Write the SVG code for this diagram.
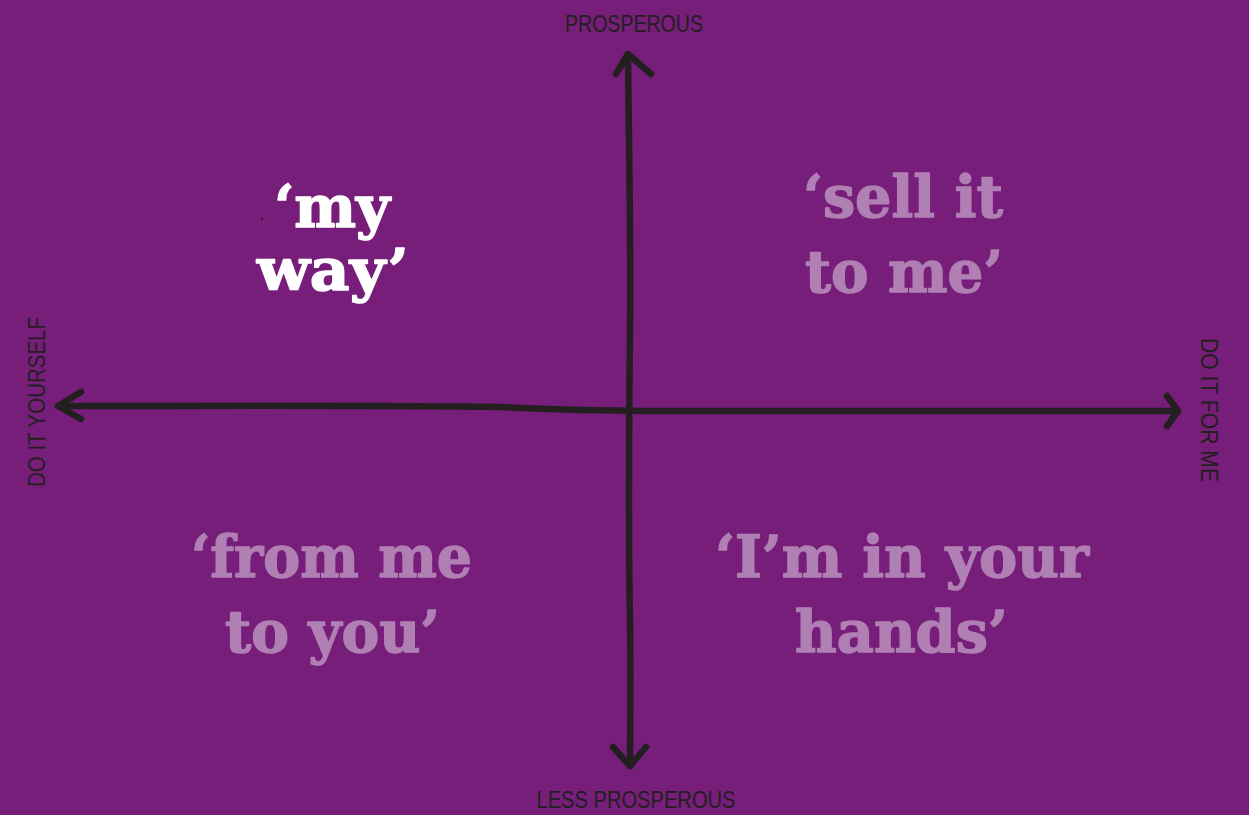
<svg xmlns="http://www.w3.org/2000/svg" width="1249" height="815" viewBox="0 0 1249 815">
<style>
.q{font-family:"DejaVu Serif","Liberation Serif",serif;font-weight:bold;font-size:58px;fill:#b07fb3;stroke:#b07fb3;stroke-width:1.5;stroke-linejoin:round}
.hl{fill:#ffffff;stroke:#ffffff}
.ax{font-family:"Liberation Sans Narrow","Liberation Sans",sans-serif;font-size:23px;fill:#231f20;text-anchor:middle}
.ln{fill:none;stroke:#231f20;stroke-width:6.5;stroke-linecap:round;stroke-linejoin:round}
</style>
<rect width="1249" height="815" fill="#761e7a"/>
<g id="connectors">
<path class="ln" d="M628,54 C629,150 631,250 630,330 C629,420 628,520 630,620 C631,690 630,730 630,766"/>
<path class="ln" d="M616,74 L628,54 L651,74"/>
<path class="ln" d="M613,747 L630,766 L646,747"/>
<path class="ln" d="M58,406 C200,406 380,405 500,407 C560,410 600,411 700,411 C900,411 1050,411 1178,411"/>
<path class="ln" d="M81,392 L58,406 L81,419"/>
<path class="ln" d="M1167,396 L1178,411 L1167,426"/>
</g>
<g id="axis-top"><text class="ax" x="634" y="32" textLength="138" lengthAdjust="spacingAndGlyphs">PROSPEROUS</text></g>
<g id="axis-bottom"><text class="ax" x="636" y="808" textLength="199" lengthAdjust="spacingAndGlyphs">LESS PROSPEROUS</text></g>
<g id="axis-left"><text class="ax" transform="translate(45,402) rotate(-90)" textLength="170" lengthAdjust="spacingAndGlyphs">DO IT YOURSELF</text></g>
<g id="axis-right"><text class="ax" transform="translate(1201,410) rotate(90)" textLength="144" lengthAdjust="spacingAndGlyphs">DO IT FOR ME</text></g>
<g id="q-my-way"><text class="q hl" x="274" y="227" textLength="116" lengthAdjust="spacingAndGlyphs">‘my</text><text class="q hl" x="257" y="290" textLength="152" lengthAdjust="spacingAndGlyphs">way’</text></g>
<g id="q-sell"><text class="q" x="803" y="217" textLength="200" lengthAdjust="spacingAndGlyphs">‘sell it</text><text class="q" x="805" y="292" textLength="198" lengthAdjust="spacingAndGlyphs">to me’</text></g>
<g id="q-from"><text class="q" x="191" y="577" textLength="281" lengthAdjust="spacingAndGlyphs">‘from me</text><text class="q" x="225" y="652" textLength="215" lengthAdjust="spacingAndGlyphs">to you’</text></g>
<g id="q-hands"><text class="q" x="715" y="577" textLength="374" lengthAdjust="spacingAndGlyphs">‘I’m in your</text><text class="q" x="795" y="652" textLength="213" lengthAdjust="spacingAndGlyphs">hands’</text></g>
<rect x="261" y="218" width="2" height="2" fill="#231f20"/>
</svg>
